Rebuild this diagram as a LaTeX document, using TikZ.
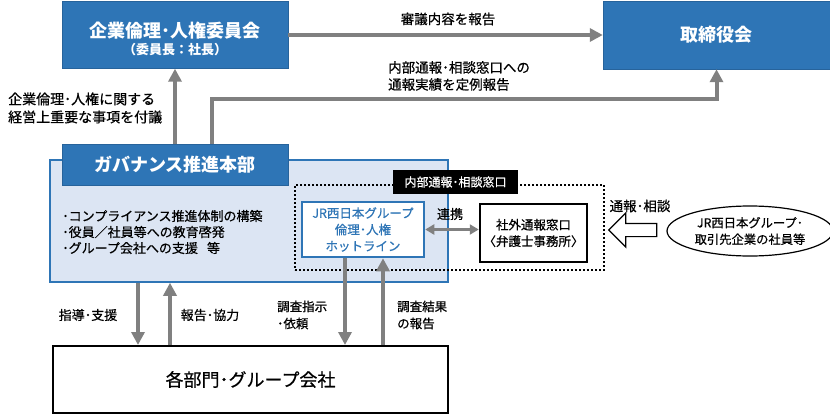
\documentclass[tikz,border=0pt]{standalone}
\usepackage{fontspec}
\setmainfont{Noto Sans CJK JP}[UprightFeatures={FakeBold=0.6}]
\usepackage{tikz}
\usetikzlibrary{arrows.meta,shapes,positioning}
\definecolor{jrblue}{RGB}{46,117,182}
\definecolor{jrlightblue}{RGB}{220,229,243}
\definecolor{jrgray}{RGB}{128,128,128}
\tikzstyle{grayarrow} = [line width=4pt, draw=jrgray, -{Triangle[length=13pt,width=13pt]}]
\tikzstyle{linkarrow} = [line width=2.5pt, draw=jrgray, {Triangle[length=9pt,width=10pt]}-{Triangle[length=9pt,width=10pt]}]
\tikzstyle{headbox} = [rectangle, fill=jrblue, draw=jrblue!85!black, text=white, font=\fontsize{18}{21}\selectfont\bfseries]
\tikzstyle{lbl} = [inner sep=0pt, font=\fontsize{13.5}{17}\selectfont]
\tikzstyle{deskbox} = [rectangle, fill=white, line width=2.5pt, align=center, font=\fontsize{12.5}{16.5}\selectfont]

\begin{document}
\begin{tikzpicture}[x=1pt,y=-1pt]
\useasboundingbox (0,0) rectangle (830,415);

% Committees
\node[headbox, minimum width=226pt, minimum height=67pt, align=center] (ethics) at (175,35)
  {\rule{0pt}{23pt}企業倫理･人権委員会\\[-4pt]{\fontsize{13}{15}\selectfont （委員長：社長）}};
\node[headbox, minimum width=227pt, minimum height=68pt] (board) at (716.5,35) {取締役会};

% Governance
\node[rectangle, fill=jrlightblue, draw=jrblue, line width=1.5pt, minimum width=398pt, minimum height=122pt] (gov) at (249,221) {};
\node[headbox, minimum width=226pt, minimum height=41pt] (govhead) at (175,164.5) {ガバナンス推進本部};
\node[anchor=west, align=left, inner sep=0pt, font=\fontsize{13}{16}\selectfont] (tasks) at (62,232)
  {･コンプライアンス推進体制の構築\\･役員／社員等への教育啓発\\･グループ会社への支援\hspace{0.7em}等};

% Hotline
\node[rectangle, draw=black, line width=2pt, dash pattern=on 2pt off 2pt, minimum width=309pt, minimum height=85pt] (desk) at (449.5,227.5) {};
\node[rectangle, fill=black, text=white, minimum width=125pt, minimum height=24pt, inner sep=0pt, font=\fontsize{12}{14}\selectfont] (desklbl) at (455.5,182) {内部通報･相談窓口};
\node[deskbox, draw=jrblue, text=jrblue, minimum width=122pt, minimum height=55pt] (hotline) at (363,229.5) {JR西日本グループ\\倫理･人権\\ホットライン};
\node[deskbox, draw=black, minimum width=107pt, minimum height=58pt] (outside) at (533.5,233) {社外通報窓口\\〈弁護士事務所〉};
\node[ellipse, draw=black, line width=1.2pt, minimum width=157pt, minimum height=50pt, align=center, font=\fontsize{12.3}{16.5}\selectfont] (staff) at (750,231) {JR西日本グループ･\\取引先企業の社員等};
\node[single arrow, draw=black, fill=white, line width=1.2pt, inner sep=6pt, single arrow head extend=10.5pt, minimum height=48pt, shape border rotate=180] (tell) at (636,230) {};
\node[lbl] (telllbl) at (640,206) {通報･相談};

% Departments
\node[rectangle, draw=black, line width=2pt, minimum width=395pt, minimum height=67pt, font=\fontsize{18}{21}\selectfont] (depts) at (250.5,379.5) {各部門･グループ会社};

% Arrows
\draw[grayarrow] (ethics.east) -- (board.west);
\node[lbl] (reviewlbl) at (448,19) {審議内容を報告};
\draw[grayarrow] (govhead.north) -- (ethics.south);
\node[lbl, anchor=west, align=left, font=\fontsize{14}{18}\selectfont] (agendalbl) at (8,108) {企業倫理･人権に関する\\経営上重要な事項を付議};
\coordinate (bend) at (212,99);
\draw[grayarrow] (govhead.north -| bend) -- (bend) -| (board.south);
\node[lbl, anchor=west, align=left] (resultlbl) at (388,76) {内部通報･相談窓口への\\通報実績を定例報告};
\draw[linkarrow] (hotline.east) -- (hotline.east -| outside.west);
\node[lbl, font=\fontsize{13}{17}\selectfont] (linklbl) at (450,214) {連携};

\draw[grayarrow] ([xshift=-111pt]gov.south) -- ([xshift=-111pt]gov.south |- depts.north);
\draw[grayarrow] ([xshift=-79pt]gov.south |- depts.north) -- ([xshift=-79pt]gov.south);
\draw[grayarrow] ([xshift=-18pt]hotline.south) -- ([xshift=-18pt]hotline.south |- depts.north);
\draw[grayarrow] ([xshift=20pt]hotline.south |- depts.north) -- ([xshift=20pt]hotline.south);
\node[lbl, font=\fontsize{13}{17}\selectfont] (guidelbl) at (88,315) {指導･支援};
\node[lbl, font=\fontsize{13}{17}\selectfont] (coop) at (210,315) {報告･協力};
\node[lbl, anchor=west, align=left, font=\fontsize{12.5}{17}\selectfont] (orderlbl) at (277,315) {調査指示\\･依頼};
\node[lbl, anchor=west, align=left, font=\fontsize{12.5}{17}\selectfont] (answerlbl) at (397,315) {調査結果\\の報告};
\end{tikzpicture}
\end{document}
